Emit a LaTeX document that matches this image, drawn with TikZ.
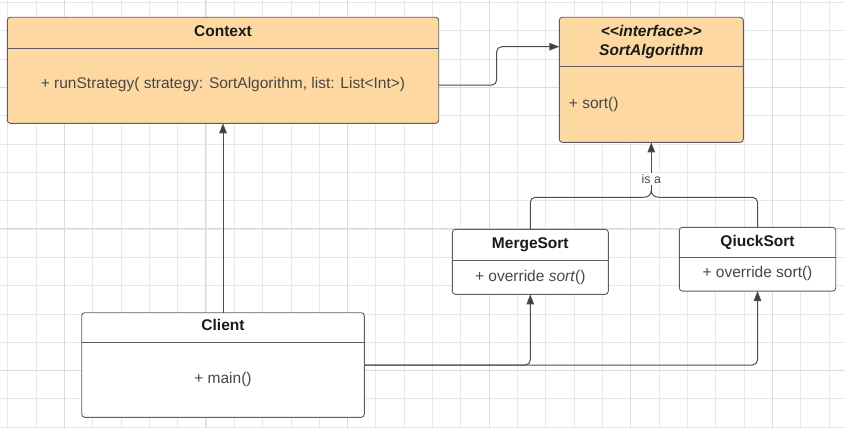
\documentclass[tikz,border=0pt]{standalone}
\usepackage{fontspec}
\setmainfont{Liberation Sans}
\usetikzlibrary{arrows.meta}
\definecolor{orangefill}{HTML}{FDD8A0}
\definecolor{boxline}{HTML}{5E5E5E}
\definecolor{connline}{HTML}{4D4D4D}
\definecolor{tipfill}{HTML}{3A3F45}
\definecolor{titletext}{HTML}{1A1A1A}
\definecolor{methtext}{HTML}{474747}
\definecolor{minorgrid}{HTML}{E8E8E8}
\definecolor{majorgrid}{HTML}{DBDBDB}
\begin{document}
\begin{tikzpicture}[x=1pt,y=-1pt,
  box/.style={draw=boxline, line width=0.9pt, rounded corners=3pt, inner sep=0pt, outer sep=0pt},
  classtitle/.style={anchor=base, inner sep=0pt, font=\fontsize{15.5}{18}\selectfont\bfseries, text=titletext},
  meth/.style={anchor=base, inner sep=0pt, font=\fontsize{15.5}{18}\selectfont, text=methtext},
  divider/.style={draw=boxline, line width=0.9pt},
  plainline/.style={draw=connline, line width=1pt},
  conn/.style={draw=connline, line width=1pt, rounded corners=5pt, -{Triangle[length=10pt,width=7.5pt,fill=tipfill]}},
  minorline/.style={draw=minorgrid, line width=0.8pt},
  majorline/.style={draw=majorgrid, line width=1pt},
  islabel/.style={fill=white, inner sep=1pt, anchor=base, font=\fontsize{12.4}{14}\selectfont, text=methtext},
]
\useasboundingbox (0,0) rectangle (845,428);
\fill[white] (0,0) rectangle (845,428);
% grid
\foreach \k in {0,...,29} {
  \pgfmathsetmacro\xx{7.7+28.32*\k}
  \draw[minorline] (\xx,0) -- (\xx,428);
}
\foreach \k in {0,...,15} {
  \pgfmathsetmacro\yy{2.4+28.32*\k}
  \draw[minorline] (0,\yy) -- (845,\yy);
}
\foreach \k in {2,7,...,27} {
  \pgfmathsetmacro\xx{7.7+28.32*\k}
  \draw[majorline] (\xx,0) -- (\xx,428);
}
\foreach \k in {3,8,13} {
  \pgfmathsetmacro\yy{2.4+28.32*\k}
  \draw[majorline] (0,\yy) -- (845,\yy);
}

% Context
\node[box, fill=orangefill, minimum width=431.4pt, minimum height=106pt] (ctx) at (223,70.3) {};
\draw[divider] (ctx.west |- 0,48.3) -- (ctx.east |- 0,48.3);
\node[classtitle] (ctxt) at (223,36.5) {Context};
\node[meth] (ctxm) at (223,88.8) {+ runStrategy( strategy: SortAlgorithm, list: List{<}Int{>})};

% SortAlgorithm
\node[box, fill=orangefill, minimum width=184pt, minimum height=125pt] (sa) at (651.3,79.8) {};
\draw[divider] (sa.west |- 0,66.3) -- (sa.east |- 0,66.3);
\node[classtitle, font=\fontsize{15.5}{18}\selectfont\bfseries\itshape] (sat1) at (651.3,37) {{<}{<}interface{>}{>}};
\node[classtitle, font=\fontsize{15.5}{18}\selectfont\bfseries\itshape] (sat2) at (651.3,55.5) {SortAlgorithm};
\node[meth, anchor=base west] (sam) at (568.7,108) {+ sort()};

% MergeSort
\node[box, fill=white, minimum width=156pt, minimum height=65pt] (ms) at (530.3,261.8) {};
\draw[divider] (ms.west |- 0,260) -- (ms.east |- 0,260);
\node[classtitle] (mst) at (530.3,248.8) {MergeSort};
\node[meth] (msm) at (530.3,281.5) {+ override \textit{sort}()};

% QiuckSort
\node[box, fill=white, minimum width=156.4pt, minimum height=63.7pt] (qs) at (757.5,259.2) {};
\draw[divider] (qs.west |- 0,257.3) -- (qs.east |- 0,257.3);
\node[classtitle] (qst) at (757.5,246.2) {QiuckSort};
\node[meth] (qsm) at (757.5,277.5) {+ override sort()};

% Client
\node[box, fill=white, minimum width=282.6pt, minimum height=104.6pt] (cli) at (223,365) {};
\draw[divider] (cli.west |- 0,342.3) -- (cli.east |- 0,342.3);
\node[classtitle] (clit) at (223,330.5) {Client};
\node[meth] (clim) at (223,383.8) {+ main()};

% connectors
\draw[conn] (cli.north) -- (ctx.south);
\draw[conn] ([yshift=-14.7pt]ctx.east) -- ++(58,0) |- ([yshift=33.1pt]sa.west);
\draw[conn] (cli.east) -| (ms.south);
\draw[conn] (cli.east) -| (qs.south);

% "is a" generalisation with brace junction
\coordinate (tipL) at (643.3,197.3);
\coordinate (tip) at (651.3,190.3);
\coordinate (tipR) at (659.3,197.3);
\draw[plainline, rounded corners=5pt] (ms.north) |- (tipL);
\draw[plainline, rounded corners=5pt] (qs.north) |- (tipR);
\draw[plainline] (tipL) .. controls (648,197.3) and (651.3,195) .. (tip)
  .. controls (651.3,195) and (654.6,197.3) .. (tipR);
\draw[conn] (tip) -- (sa.south);
\node[islabel] (isa) at (651.3,183.4) {is a};
\end{tikzpicture}
\end{document}
